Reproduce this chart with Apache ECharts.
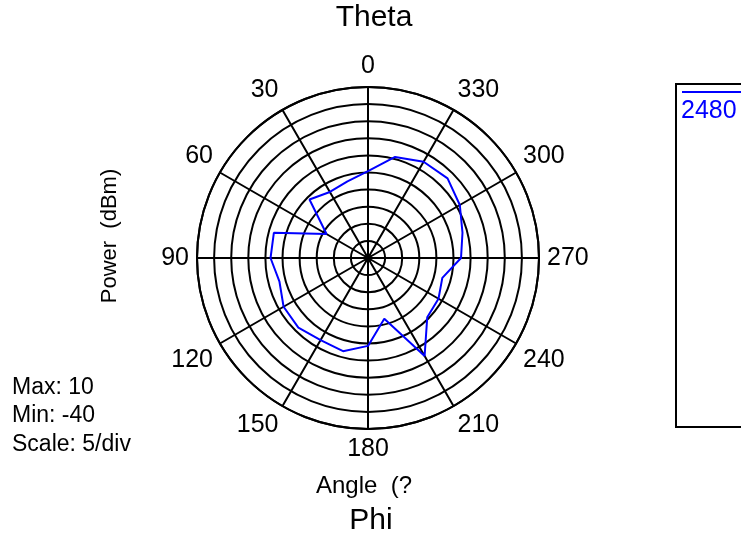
<!DOCTYPE html>
<html>
<head>
<meta charset="utf-8">
<script src="https://cdn.jsdelivr.net/npm/echarts@6/dist/echarts.min.js"></script>
<style>
html, body { margin: 0; padding: 0; background: #fff; }
#chart { width: 741px; height: 540px; }
</style>
</head>
<body>
<div id="chart"></div>
<script>
// phi angle (deg, counter-clockwise from top) and measured power (dBm)
const phi = [0, 15, 30, 45, 60, 75, 90, 105, 120, 135, 150, 165,
             180, 195, 210, 225, 240, 255, 270, 285, 300, 315, 330, 345];
const power = [-14.6, -16.8, -17.7, -15.8, -26.0, -11.5, -11.5, -13.2, -11.5, -11.2, -12.3, -11.8,
               -14.3, -21.6, -6.9, -15.5, -16.2, -17.5, -12.8, -11.4, -9.0, -7.1, -7.5, -9.4];
const seriesName = '2480';
const scaleMax = 10;
const scaleMin = -40;
const scaleDiv = 5;

const font = 'Liberation Sans, Arial, sans-serif';

// close the loop back to 0 deg
const lineData = phi.map((a, i) => [power[i], a]);
lineData.push([power[0], 360]);

const chart = echarts.init(document.getElementById('chart'));

chart.setOption({
    animation: false,
    polar: {
        center: [368, 258],
        radius: 171,
    },
    angleAxis: {
        type: 'value',
        min: 0,
        max: 360,
        interval: 30,
        startAngle: 90,
        clockwise: false,
        axisLine: {
            lineStyle: { color: '#000', width: 2 },
        },
        axisTick: { show: false },
        axisLabel: {
            color: '#000',
            fontSize: 25,
            fontFamily: font,
            margin: 8,
        },
        splitLine: {
            show: true,
            lineStyle: { color: '#000', width: 2 },
        },
    },
    radiusAxis: {
        type: 'value',
        min: scaleMin,
        max: scaleMax,
        interval: scaleDiv,
        axisLine: { show: false },
        axisTick: { show: false },
        axisLabel: { show: false },
        splitLine: {
            show: true,
            lineStyle: { color: '#000', width: 2 },
        },
    },
    series: [{
        name: seriesName,
        type: 'line',
        coordinateSystem: 'polar',
        data: lineData,
        symbol: 'none',
        lineStyle: { color: '#0000ff', width: 2 },
    }],
    graphic: [
        {
            type: 'text', x: 374, y: 18,
            style: { text: 'Theta', font: '30px ' + font, fill: '#000', align: 'center', verticalAlign: 'middle' },
        },
        {
            type: 'text', x: 371, y: 521,
            style: { text: 'Phi', font: '30px ' + font, fill: '#000', align: 'center', verticalAlign: 'middle' },
        },
        {
            type: 'text', x: 364, y: 486,
            style: { text: 'Angle  (?', font: '24px ' + font, fill: '#000', align: 'center', verticalAlign: 'middle' },
        },
        {
            type: 'text', x: 110, y: 236, rotation: Math.PI / 2,
            style: { text: 'Power  (dBm)', font: '22px ' + font, fill: '#000', align: 'center', verticalAlign: 'middle' },
        },
        {
            type: 'text', x: 12, y: 388,
            style: { text: 'Max: ' + scaleMax, font: '23px ' + font, fill: '#000', align: 'left', verticalAlign: 'middle' },
        },
        {
            type: 'text', x: 12, y: 416,
            style: { text: 'Min: ' + scaleMin, font: '23px ' + font, fill: '#000', align: 'left', verticalAlign: 'middle' },
        },
        {
            type: 'text', x: 12, y: 445,
            style: { text: 'Scale: ' + scaleDiv + '/div', font: '23px ' + font, fill: '#000', align: 'left', verticalAlign: 'middle' },
        },
        // legend box
        {
            type: 'rect',
            shape: { x: 676, y: 84, width: 80, height: 343 },
            style: { fill: 'none', stroke: '#000', lineWidth: 2 },
        },
        {
            type: 'line',
            shape: { x1: 682, y1: 92, x2: 745, y2: 92 },
            style: { stroke: '#0000ff', lineWidth: 2 },
        },
        {
            type: 'text', x: 681, y: 111,
            style: { text: seriesName, font: '25px ' + font, fill: '#0000ff', align: 'left', verticalAlign: 'middle' },
        },
    ],
});
</script>
</body>
</html>
